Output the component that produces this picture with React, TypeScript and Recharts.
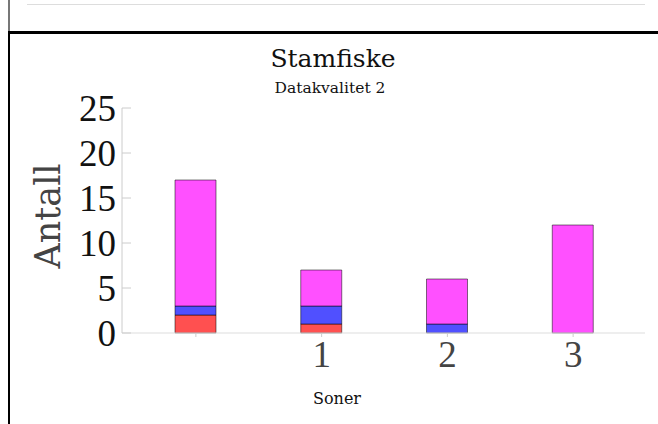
import * as React from "react";
import { BarChart, Bar, XAxis, YAxis } from "recharts";

// Stamfiske, datakvalitet 2 – antall per sone
const soner = ["", "1", "2", "3"];
const rod = [2, 1, 0, 0];
const blaa = [1, 2, 1, 0];
const rosa = [14, 4, 5, 12];
const yTicks = [0, 5, 10, 15, 20, 25];

const data = soner.map((sone, i) => ({ sone, rod: rod[i], blaa: blaa[i], rosa: rosa[i] }));

const serif = "'DejaVu Serif', serif";
const tall = "'Liberation Serif', serif";

function YTick({ x, y, payload }: any) {
  return (
    <g>
      <line x1={x} x2={x + 9} y1={y} y2={y} stroke="#ccc" />
      <text x={x - 6} y={y} dy="0.36em" textAnchor="end" fontFamily={tall} fontSize={37} fill="#111">
        {payload.value}
      </text>
    </g>
  );
}

function XTick({ x, y, payload }: any) {
  return (
    <text x={x} y={y} dy="0.75em" textAnchor="middle" fontFamily={tall} fontSize={37} fill="#444">
      {payload.value}
    </text>
  );
}

export default function App() {
  return (
    <div style={{ position: "fixed", left: 0, top: 0, width: 658, height: 424, background: "#fff", overflow: "hidden" }}>
      {/* ramme */}
      <div style={{ position: "absolute", left: 27, top: 4, width: 618, height: 1, background: "#ddd" }} />
      <div style={{ position: "absolute", left: 8, top: 0, width: 2, height: 32, background: "#777" }} />
      <div style={{ position: "absolute", left: 8, top: 31, width: 650, height: 3, background: "#000" }} />
      <div style={{ position: "absolute", left: 8, top: 32, width: 2, height: 392, background: "#000" }} />

      <div style={{ position: "absolute", left: 0, top: 0 }}>
        <BarChart width={658} height={424} data={data} margin={{ top: 108, right: 13, bottom: 61, left: 0 }}>
          <XAxis
            dataKey="sone"
            height={30}
            stroke="#ddd"
            tickSize={4}
            tickLine={{ stroke: "#ccc" }}
            padding={{ left: 11, right: 9 }}
            tick={<XTick />}
          />
          <YAxis
            width={122}
            domain={[0, 25]}
            ticks={yTicks}
            stroke="#ccc"
            tickLine={false}
            tickSize={0}
            tickMargin={0}
            tick={<YTick />}
          />
          <Bar dataKey="rod" stackId="a" barSize={41} fill="#ff5050" stroke="#000" strokeOpacity={0.5} isAnimationActive={false} />
          <Bar dataKey="blaa" stackId="a" barSize={41} fill="#5050ff" stroke="#000" strokeOpacity={0.5} isAnimationActive={false} />
          <Bar dataKey="rosa" stackId="a" barSize={41} fill="#ff50ff" stroke="#000" strokeOpacity={0.5} isAnimationActive={false} />
        </BarChart>
      </div>

      <div style={{ position: "absolute", left: 0, width: 666, top: 44, textAlign: "center", fontFamily: serif, fontSize: 25, color: "#111" }}>
        Stamfiske
      </div>
      <div style={{ position: "absolute", left: 0, width: 660, top: 79, textAlign: "center", fontFamily: serif, fontSize: 15.5, color: "#111" }}>
        Datakvalitet 2
      </div>
      <div
        style={{
          position: "absolute",
          left: 48,
          top: 216,
          transform: "translate(-50%, -50%) rotate(-90deg)",
          fontFamily: serif,
          fontSize: 35,
          color: "#444",
          whiteSpace: "nowrap",
        }}
      >
        Antall
      </div>
      <div style={{ position: "absolute", left: 0, width: 674, top: 389, textAlign: "center", fontFamily: serif, fontSize: 16, color: "#111" }}>
        Soner
      </div>
    </div>
  );
}
